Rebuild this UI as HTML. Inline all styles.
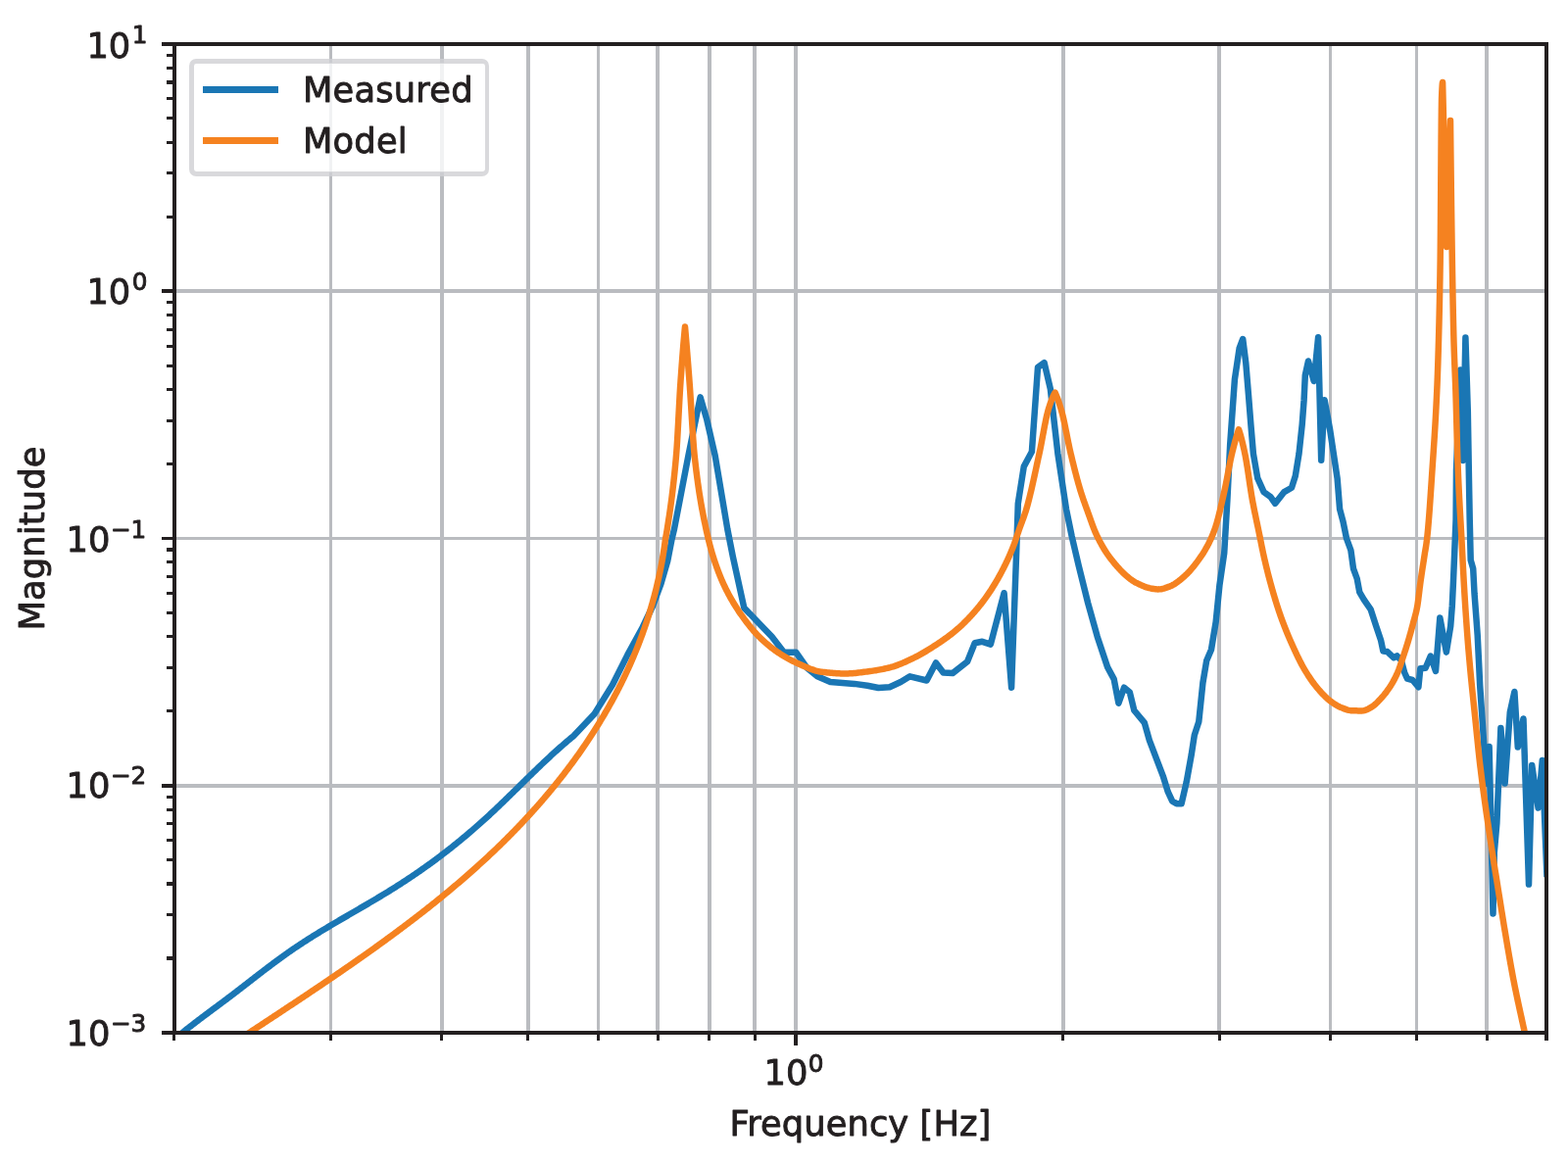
<!DOCTYPE html>
<html lang="en"><head><meta charset="utf-8"><title>Frequency response: measured vs model</title>
<style>html,body{margin:0;padding:0;background:#fff}body{width:1600px;height:1190px;overflow:hidden}svg{display:block}text{font-family:"DejaVu Sans","Liberation Sans",sans-serif;fill:#231f20;stroke:#231f20;stroke-width:0.9px;stroke-linejoin:round}</style></head><body>
<svg width="1600" height="1190" viewBox="0 0 1600 1190">
<rect width="1600" height="1190" fill="#ffffff"/>
<defs><clipPath id="ax"><rect x="177.42" y="44.47" width="1401.03" height="1009.90"/></clipPath></defs>
<path d="M336 47H339V1052H336ZM449 47H453V1052H449ZM537 47H541V1052H537ZM609 47H612V1052H609ZM669 47H673V1052H669ZM722 47H726V1052H722ZM768 47H772V1052H768ZM810 47H814V1052H810ZM1083 47H1087V1052H1083ZM1242 47H1246V1052H1242ZM1356 47H1359V1052H1356ZM1444 47H1447V1052H1444ZM1515 47H1519V1052H1515ZM180 800H1576V804H180ZM180 548H1576V551H180ZM180 295H1576V299H180Z" fill="#babcc0"/>
<g clip-path="url(#ax)" fill="none" stroke-linejoin="round" stroke-linecap="butt">
<path d="M176.00 1062.60 L177.11 1061.62 L178.23 1060.65 L179.36 1059.68 L180.49 1058.71 L181.62 1057.75 L182.76 1056.79 L183.91 1055.83 L185.06 1054.88 L186.22 1053.93 L187.38 1052.98 L188.55 1052.04 L189.72 1051.09 L190.89 1050.16 L192.07 1049.22 L193.25 1048.29 L194.44 1047.36 L195.62 1046.43 L196.82 1045.50 L198.01 1044.58 L199.21 1043.66 L200.41 1042.73 L201.61 1041.82 L202.82 1040.90 L204.03 1039.98 L205.24 1039.07 L206.45 1038.16 L207.66 1037.25 L208.88 1036.34 L210.09 1035.43 L211.31 1034.52 L212.53 1033.61 L213.75 1032.71 L214.96 1031.80 L216.18 1030.89 L217.40 1029.99 L218.62 1029.08 L219.84 1028.18 L221.06 1027.28 L222.28 1026.37 L223.50 1025.47 L224.72 1024.56 L225.93 1023.66 L227.15 1022.75 L228.36 1021.84 L229.57 1020.94 L230.78 1020.03 L231.99 1019.12 L233.19 1018.21 L234.40 1017.30 L235.60 1016.39 L236.80 1015.48 L238.00 1014.56 L239.19 1013.65 L240.39 1012.73 L241.58 1011.82 L242.77 1010.90 L243.96 1009.99 L245.15 1009.07 L246.33 1008.16 L247.52 1007.24 L248.71 1006.32 L249.89 1005.41 L251.07 1004.49 L252.26 1003.57 L253.44 1002.66 L254.62 1001.74 L255.80 1000.83 L256.98 999.91 L258.16 999.00 L259.34 998.08 L260.52 997.17 L261.71 996.26 L262.89 995.35 L264.07 994.44 L265.25 993.53 L266.43 992.62 L267.62 991.71 L268.80 990.80 L269.99 989.90 L271.17 989.00 L272.36 988.10 L273.55 987.20 L274.74 986.30 L275.93 985.40 L277.12 984.50 L278.31 983.61 L279.51 982.72 L280.71 981.83 L281.91 980.94 L283.11 980.06 L284.31 979.18 L285.51 978.30 L286.72 977.42 L287.93 976.54 L289.14 975.67 L290.36 974.80 L291.58 973.93 L292.80 973.07 L294.02 972.21 L295.25 971.35 L296.48 970.49 L297.71 969.64 L298.95 968.79 L300.19 967.94 L301.43 967.10 L302.68 966.26 L303.93 965.43 L305.18 964.59 L306.43 963.76 L307.69 962.93 L308.96 962.11 L310.22 961.29 L311.49 960.47 L312.76 959.65 L314.03 958.84 L315.31 958.03 L316.59 957.22 L317.87 956.42 L319.15 955.61 L320.44 954.81 L321.73 954.01 L323.02 953.22 L324.31 952.42 L325.60 951.63 L326.90 950.84 L328.20 950.05 L329.50 949.26 L330.80 948.48 L332.10 947.70 L333.41 946.91 L334.71 946.13 L336.02 945.36 L337.33 944.58 L338.64 943.80 L339.95 943.03 L341.26 942.25 L342.57 941.48 L343.89 940.71 L345.20 939.94 L346.51 939.17 L347.83 938.40 L349.15 937.63 L350.46 936.87 L351.78 936.10 L353.10 935.33 L354.41 934.57 L355.73 933.80 L357.05 933.04 L358.37 932.27 L359.68 931.51 L361.00 930.75 L362.32 929.98 L363.63 929.22 L364.95 928.45 L366.26 927.69 L367.58 926.92 L368.89 926.16 L370.21 925.39 L371.52 924.63 L372.83 923.86 L374.14 923.10 L375.45 922.33 L376.76 921.56 L378.07 920.79 L379.37 920.02 L380.68 919.25 L381.98 918.48 L383.28 917.71 L384.58 916.94 L385.88 916.16 L387.17 915.39 L388.47 914.61 L389.76 913.83 L391.05 913.05 L392.34 912.27 L393.62 911.49 L394.91 910.70 L396.19 909.92 L397.47 909.13 L398.74 908.34 L400.02 907.54 L401.29 906.75 L402.56 905.95 L403.82 905.16 L405.09 904.36 L406.35 903.55 L407.60 902.75 L408.86 901.94 L410.11 901.13 L411.36 900.32 L412.61 899.51 L413.85 898.69 L415.09 897.88 L416.33 897.06 L417.57 896.23 L418.80 895.41 L420.04 894.58 L421.27 893.75 L422.49 892.92 L423.72 892.09 L424.94 891.25 L426.16 890.41 L427.38 889.57 L428.60 888.72 L429.81 887.88 L431.02 887.03 L432.23 886.18 L433.44 885.32 L434.64 884.47 L435.85 883.61 L437.05 882.75 L438.25 881.88 L439.44 881.01 L440.64 880.14 L441.83 879.27 L443.02 878.40 L444.21 877.52 L445.39 876.64 L446.58 875.75 L447.76 874.87 L448.94 873.98 L450.12 873.09 L451.30 872.19 L452.47 871.29 L453.65 870.39 L454.82 869.49 L455.99 868.58 L457.15 867.67 L458.32 866.76 L459.49 865.85 L460.65 864.93 L461.81 864.01 L462.97 863.08 L464.13 862.15 L465.28 861.22 L466.44 860.29 L467.59 859.35 L468.74 858.41 L469.89 857.47 L471.04 856.52 L472.19 855.57 L473.33 854.62 L474.48 853.66 L475.62 852.70 L476.76 851.74 L477.90 850.78 L479.04 849.81 L480.18 848.83 L481.31 847.86 L482.45 846.88 L483.58 845.89 L484.72 844.91 L485.85 843.92 L486.98 842.92 L488.11 841.93 L489.23 840.93 L490.36 839.92 L491.48 838.91 L492.61 837.90 L493.73 836.89 L494.85 835.87 L495.98 834.85 L497.10 833.82 L498.22 832.79 L499.33 831.76 L500.45 830.72 L501.57 829.68 L502.68 828.64 L503.80 827.59 L504.91 826.54 L506.02 825.49 L507.14 824.44 L508.25 823.38 L509.36 822.32 L510.47 821.26 L511.58 820.19 L512.69 819.13 L513.79 818.06 L514.90 816.99 L516.01 815.92 L517.11 814.84 L518.22 813.77 L519.32 812.69 L520.43 811.62 L521.53 810.54 L522.64 809.46 L523.74 808.38 L524.84 807.30 L525.94 806.22 L527.04 805.14 L528.15 804.06 L529.25 802.98 L530.35 801.90 L531.45 800.82 L532.55 799.74 L533.65 798.66 L534.74 797.58 L535.84 796.51 L536.94 795.43 L538.04 794.36 L539.14 793.28 L540.24 792.21 L541.34 791.14 L542.43 790.07 L543.53 789.00 L544.63 787.93 L545.73 786.87 L546.83 785.81 L547.92 784.75 L549.02 783.69 L550.12 782.63 L551.22 781.58 L552.31 780.53 L553.41 779.49 L554.51 778.44 L555.61 777.40 L556.71 776.37 L557.81 775.33 L558.90 774.31 L560.00 773.28 L561.10 772.26 L562.20 771.24 L563.30 770.23 L564.40 769.22 L565.50 768.21 L566.61 767.21 L567.71 766.22 L568.81 765.23 L569.91 764.24 L571.01 763.26 L572.12 762.29 L573.22 761.32 L574.32 760.36 L575.43 759.40 L576.53 758.44 L577.64 757.50 L578.75 756.56 L579.85 755.62 L580.96 754.70 L582.07 753.77 L583.18 752.86 L584.29 751.95 L585.40 751.05 L606.20 729.10 L625.10 698.80 L640.20 668.60 L655.80 640.00 L666.30 618.00 L674.60 595.40 L681.20 572.70 L685.60 550.00 L688.00 540.00 L702.40 465.00 L714.60 405.40 L721.30 428.40 L729.70 465.00 L742.30 540.00 L747.90 568.40 L759.30 620.40 L787.60 649.70 L799.90 665.70 L812.20 665.70 L823.60 681.80 L834.00 690.30 L847.30 696.00 L871.80 697.90 L885.10 699.70 L896.40 702.00 L907.80 701.30 L919.10 696.00 L928.50 690.30 L945.60 694.50 L955.00 676.50 L962.60 686.50 L972.00 687.10 L987.10 675.20 L994.70 656.30 L1002.30 654.80 L1010.80 657.60 L1024.60 605.20 L1032.10 701.70 L1037.20 562.70 L1038.80 513.90 L1044.80 476.10 L1052.90 461.00 L1059.00 375.00 L1065.60 370.20 L1071.80 396.70 L1079.40 462.90 L1088.00 519.60 L1093.60 547.00 L1100.80 577.80 L1110.20 615.60 L1119.70 649.70 L1130.10 680.90 L1136.70 693.10 L1141.40 717.70 L1147.10 701.70 L1152.80 706.40 L1157.30 725.00 L1167.80 737.60 L1172.80 755.30 L1180.40 775.40 L1186.70 791.80 L1191.80 808.20 L1196.20 817.70 L1200.60 820.20 L1205.60 820.20 L1210.70 798.10 L1215.70 770.40 L1218.80 750.20 L1223.30 736.40 L1227.40 696.90 L1231.20 674.20 L1236.00 662.90 L1240.70 634.50 L1244.50 596.70 L1249.20 564.60 L1252.40 510.10 L1255.20 453.40 L1259.90 387.30 L1264.70 355.10 L1268.20 346.00 L1271.30 370.40 L1273.90 401.90 L1276.40 433.40 L1278.90 463.00 L1283.30 488.20 L1289.60 502.10 L1296.50 507.10 L1301.20 513.80 L1310.40 502.10 L1318.00 497.70 L1321.80 485.70 L1325.50 463.00 L1328.70 433.40 L1330.60 408.20 L1331.80 383.00 L1335.00 368.50 L1340.70 389.00 L1345.10 344.20 L1348.20 469.70 L1351.60 408.30 L1357.00 437.80 L1360.80 463.00 L1364.60 488.20 L1367.10 519.70 L1370.50 532.30 L1374.00 549.50 L1378.40 561.50 L1381.00 580.40 L1384.70 590.50 L1387.30 604.40 L1391.70 611.90 L1398.60 621.80 L1404.20 639.00 L1409.00 653.20 L1411.40 664.60 L1415.60 665.10 L1422.30 671.30 L1425.60 669.40 L1429.90 674.10 L1433.20 686.50 L1436.00 692.60 L1441.30 694.00 L1447.40 701.20 L1449.30 682.20 L1454.60 681.70 L1459.80 669.60 L1465.00 685.00 L1469.30 630.40 L1475.90 665.60 L1480.20 639.00 L1481.80 618.20 L1483.00 593.00 L1484.30 561.50 L1485.60 530.00 L1486.00 480.00 L1490.30 377.50 L1492.80 470.00 L1495.40 344.50 L1497.80 420.00 L1498.80 480.00 L1499.70 530.00 L1500.70 571.60 L1503.20 580.40 L1504.50 605.60 L1506.40 630.80 L1507.70 648.50 L1509.10 677.00 L1510.20 700.00 L1513.30 745.40 L1516.80 800.00 L1519.60 762.00 L1523.50 932.50 L1524.80 870.00 L1527.40 840.00 L1531.40 743.00 L1535.60 799.50 L1540.80 727.00 L1545.40 706.00 L1548.80 762.50 L1554.50 733.50 L1560.00 902.60 L1563.20 781.00 L1569.60 824.50 L1573.80 776.00 L1578.50 895.00" stroke="#1a76b4" stroke-width="6.50"/>
<path d="M240.00 1063.50 L241.23 1062.68 L242.46 1061.87 L243.68 1061.05 L244.91 1060.24 L246.14 1059.42 L247.38 1058.61 L248.61 1057.79 L249.84 1056.97 L251.07 1056.16 L252.31 1055.34 L253.54 1054.52 L254.78 1053.71 L256.01 1052.89 L257.25 1052.07 L258.48 1051.26 L259.72 1050.44 L260.96 1049.62 L262.20 1048.80 L263.44 1047.98 L264.68 1047.16 L265.92 1046.35 L267.16 1045.53 L268.40 1044.71 L269.64 1043.89 L270.88 1043.07 L272.13 1042.25 L273.37 1041.42 L274.61 1040.60 L275.86 1039.78 L277.10 1038.96 L278.35 1038.14 L279.59 1037.31 L280.84 1036.49 L282.08 1035.67 L283.33 1034.84 L284.58 1034.02 L285.82 1033.19 L287.07 1032.37 L288.32 1031.54 L289.57 1030.72 L290.82 1029.89 L292.06 1029.06 L293.31 1028.24 L294.56 1027.41 L295.81 1026.58 L297.06 1025.75 L298.31 1024.92 L299.56 1024.09 L300.81 1023.26 L302.06 1022.43 L303.31 1021.60 L304.56 1020.77 L305.81 1019.93 L307.06 1019.10 L308.31 1018.27 L309.56 1017.43 L310.82 1016.60 L312.07 1015.76 L313.32 1014.93 L314.57 1014.09 L315.82 1013.25 L317.07 1012.41 L318.32 1011.58 L319.57 1010.74 L320.82 1009.90 L322.07 1009.06 L323.33 1008.21 L324.58 1007.37 L325.83 1006.53 L327.08 1005.69 L328.33 1004.84 L329.58 1004.00 L330.83 1003.15 L332.08 1002.31 L333.33 1001.46 L334.58 1000.61 L335.83 999.76 L337.08 998.91 L338.33 998.06 L339.58 997.21 L340.83 996.36 L342.07 995.51 L343.32 994.66 L344.57 993.80 L345.82 992.95 L347.06 992.09 L348.31 991.24 L349.56 990.38 L350.80 989.52 L352.05 988.66 L353.30 987.80 L354.54 986.94 L355.79 986.08 L357.03 985.22 L358.27 984.35 L359.52 983.49 L360.76 982.62 L362.00 981.76 L363.25 980.89 L364.49 980.02 L365.73 979.15 L366.97 978.28 L368.21 977.41 L369.45 976.54 L370.69 975.67 L371.93 974.79 L373.16 973.92 L374.40 973.04 L375.64 972.17 L376.87 971.29 L378.11 970.41 L379.34 969.53 L380.58 968.65 L381.81 967.77 L383.04 966.88 L384.28 966.00 L385.51 965.11 L386.74 964.23 L387.97 963.34 L389.20 962.45 L390.43 961.56 L391.65 960.67 L392.88 959.78 L394.11 958.88 L395.33 957.99 L396.56 957.09 L397.78 956.20 L399.00 955.30 L400.22 954.40 L401.44 953.50 L402.66 952.60 L403.88 951.69 L405.10 950.79 L406.32 949.89 L407.54 948.98 L408.75 948.07 L409.97 947.16 L411.18 946.25 L412.39 945.34 L413.60 944.43 L414.81 943.51 L416.02 942.60 L417.23 941.68 L418.44 940.76 L419.64 939.84 L420.85 938.92 L422.05 938.00 L423.26 937.08 L424.46 936.15 L425.66 935.23 L426.86 934.30 L428.06 933.37 L429.25 932.44 L430.45 931.51 L431.64 930.58 L432.84 929.64 L434.03 928.71 L435.22 927.77 L436.41 926.83 L437.60 925.89 L438.79 924.95 L439.97 924.01 L441.16 923.06 L442.34 922.12 L443.52 921.17 L444.70 920.22 L445.88 919.27 L447.06 918.32 L448.24 917.36 L449.41 916.41 L450.59 915.45 L451.76 914.49 L452.93 913.53 L454.10 912.57 L455.27 911.61 L456.43 910.64 L457.60 909.68 L458.76 908.71 L459.92 907.74 L461.09 906.77 L462.24 905.80 L463.40 904.82 L464.56 903.85 L465.71 902.87 L466.86 901.89 L468.02 900.91 L469.16 899.93 L470.31 898.94 L471.46 897.96 L472.60 896.97 L473.75 895.98 L474.89 894.99 L476.03 894.00 L477.16 893.00 L478.30 892.01 L479.43 891.01 L480.57 890.01 L481.70 889.01 L482.83 888.01 L483.95 887.00 L485.08 885.99 L486.20 884.99 L487.32 883.98 L488.44 882.96 L489.56 881.95 L490.68 880.93 L491.79 879.92 L492.91 878.90 L494.02 877.88 L495.13 876.85 L496.23 875.83 L497.34 874.80 L498.44 873.77 L499.54 872.74 L500.64 871.71 L501.74 870.67 L502.83 869.64 L503.92 868.60 L505.01 867.56 L506.10 866.52 L507.19 865.47 L508.27 864.43 L509.36 863.38 L510.44 862.33 L511.52 861.27 L512.59 860.22 L513.67 859.16 L514.74 858.11 L515.81 857.05 L516.88 855.98 L517.94 854.92 L519.00 853.85 L520.07 852.78 L521.12 851.71 L522.18 850.64 L523.23 849.57 L524.29 848.49 L525.34 847.41 L526.38 846.33 L527.43 845.25 L528.47 844.16 L529.51 843.08 L530.55 841.99 L531.59 840.90 L532.62 839.80 L533.65 838.71 L534.68 837.61 L535.71 836.51 L536.73 835.41 L537.75 834.31 L538.77 833.21 L539.79 832.10 L540.80 830.99 L541.81 829.88 L542.82 828.77 L543.83 827.65 L544.83 826.53 L545.83 825.41 L546.83 824.29 L547.83 823.17 L548.82 822.04 L549.81 820.92 L550.80 819.79 L551.79 818.66 L552.77 817.52 L553.75 816.39 L554.73 815.25 L555.70 814.11 L556.68 812.97 L557.65 811.82 L558.61 810.68 L559.58 809.53 L560.54 808.38 L561.50 807.23 L562.45 806.08 L563.41 804.92 L564.36 803.76 L565.31 802.60 L566.25 801.44 L567.19 800.28 L568.13 799.11 L569.07 797.94 L570.00 796.77 L570.93 795.60 L571.86 794.43 L572.79 793.25 L573.71 792.07 L574.63 790.89 L575.55 789.71 L576.46 788.53 L577.37 787.34 L578.28 786.15 L579.18 784.96 L580.08 783.77 L580.98 782.57 L581.88 781.38 L582.77 780.18 L583.66 778.98 L584.54 777.78 L585.43 776.57 L586.31 775.36 L587.18 774.16 L588.06 772.95 L588.93 771.73 L589.79 770.52 L590.66 769.30 L591.52 768.08 L592.38 766.86 L593.23 765.64 L594.08 764.41 L594.93 763.19 L595.78 761.96 L596.62 760.73 L597.46 759.49 L598.29 758.26 L599.12 757.02 L599.95 755.78 L600.78 754.54 L601.60 753.30 L602.42 752.05 L603.23 750.81 L604.05 749.56 L604.85 748.31 L605.66 747.05 L606.46 745.80 L607.26 744.54 L608.05 743.28 L608.85 742.02 L609.63 740.75 L610.42 739.49 L611.20 738.22 L611.98 736.95 L612.75 735.68 L613.52 734.41 L614.29 733.13 L615.05 731.85 L615.81 730.57 L616.57 729.29 L617.32 728.01 L618.07 726.72 L618.82 725.43 L619.56 724.14 L620.30 722.85 L621.03 721.56 L621.76 720.26 L622.49 718.96 L623.21 717.66 L623.93 716.36 L624.65 715.06 L625.36 713.75 L626.07 712.44 L626.77 711.13 L627.47 709.82 L628.17 708.51 L628.86 707.19 L629.55 705.87 L630.24 704.55 L630.92 703.23 L631.60 701.91 L632.27 700.58 L632.94 699.25 L633.61 697.92 L634.27 696.59 L634.93 695.25 L635.59 693.92 L636.24 692.58 L636.88 691.24 L637.53 689.89 L638.17 688.55 L638.80 687.20 L639.43 685.85 L640.06 684.50 L640.68 683.15 L641.30 681.79 L641.92 680.44 L642.53 679.08 L643.13 677.72 L643.73 676.35 L644.33 674.99 L644.93 673.62 L645.52 672.25 L646.10 670.88 L646.69 669.51 L647.26 668.13 L647.84 666.76 L648.41 665.38 L648.97 664.00 L649.53 662.61 L650.09 661.23 L650.64 659.84 L651.19 658.45 L651.73 657.06 L652.27 655.67 L652.81 654.27 L653.34 652.87 L653.86 651.47 L654.39 650.07 L654.90 648.67 L655.42 647.26 L655.93 645.85 L656.43 644.44 L656.93 643.03 L657.43 641.62 L657.92 640.20 L658.41 638.78 L658.89 637.37 L659.37 635.94 L659.84 634.52 L660.31 633.09 L660.77 631.67 L661.23 630.24 L661.69 628.80 L662.14 627.37 L662.59 625.93 L663.03 624.49 L663.47 623.05 L663.90 621.61 L664.33 620.17 L664.75 618.72 L665.17 617.27 L665.58 615.82 L665.99 614.37 L666.40 612.92 L666.80 611.46 L667.19 610.00 L667.58 608.54 L667.97 607.08 L668.35 605.61 L668.73 604.15 L669.10 602.68 L669.47 601.21 L669.83 599.73 L670.18 598.26 L670.54 596.78 L670.88 595.30 L671.23 593.82 L671.57 592.34 L671.90 590.86 L672.23 589.37 L672.55 587.88 L672.87 586.39 L673.18 584.90 L673.49 583.40 L673.79 581.90 L674.09 580.40 L674.39 578.90 L674.67 577.40 L674.96 575.90 L675.24 574.39 L675.51 572.88 L675.78 571.37 L676.04 569.85 L676.30 568.34 L676.55 566.82 L676.80 565.30 L677.04 563.78 L677.28 562.26 L677.51 560.73 L677.74 559.20 L677.96 557.67 L678.18 556.14 L678.39 554.61 L678.60 553.07 L678.80 551.54 L679.00 550.00 L679.29 548.52 L679.57 547.04 L679.85 545.54 L680.12 544.04 L680.38 542.53 L680.64 541.02 L680.88 539.51 L681.11 538.03 L681.34 536.54 L681.58 535.06 L681.81 533.57 L682.04 532.08 L682.26 530.59 L682.49 529.11 L682.71 527.62 L682.94 526.13 L683.16 524.63 L683.38 523.14 L683.59 521.65 L683.81 520.16 L684.02 518.66 L684.23 517.17 L684.43 515.67 L684.64 514.18 L684.84 512.68 L685.04 511.19 L685.23 509.69 L685.43 508.19 L685.62 506.69 L685.81 505.19 L685.99 503.69 L686.18 502.20 L686.36 500.70 L686.53 499.20 L686.71 497.70 L686.88 496.19 L687.05 494.69 L687.22 493.19 L687.39 491.69 L687.55 490.19 L687.71 488.69 L687.87 487.19 L688.03 485.68 L688.19 484.18 L688.34 482.68 L688.49 481.18 L688.64 479.68 L688.79 478.17 L688.93 476.67 L689.08 475.17 L689.22 473.66 L689.36 472.16 L689.50 470.66 L689.63 469.16 L689.77 467.65 L689.90 466.15 L690.03 464.64 L690.16 463.10 L690.28 461.56 L690.39 460.03 L690.50 458.51 L690.61 456.99 L690.71 455.47 L690.81 453.95 L690.90 452.43 L691.00 450.92 L691.09 449.41 L691.18 447.90 L691.27 446.39 L691.35 444.88 L691.44 443.37 L691.52 441.86 L691.61 440.36 L691.69 438.85 L691.77 437.35 L691.85 435.85 L691.94 434.34 L692.02 432.84 L692.10 431.34 L692.18 429.84 L692.25 428.34 L692.33 426.84 L692.41 425.34 L692.49 423.84 L692.57 422.35 L692.65 420.85 L692.73 419.35 L692.81 417.86 L692.89 416.36 L692.97 414.87 L693.05 413.38 L693.13 411.88 L693.21 410.39 L693.29 408.90 L693.37 407.41 L693.46 405.92 L693.54 404.43 L693.63 402.94 L693.71 401.46 L693.80 399.97 L693.89 398.49 L693.98 397.00 L694.07 395.52 L694.17 394.05 L694.27 392.57 L694.37 391.10 L694.47 389.61 L694.57 388.12 L694.68 386.63 L694.78 385.14 L694.89 383.65 L695.00 382.15 L695.11 380.66 L695.21 379.17 L695.32 377.68 L695.43 376.19 L695.54 374.70 L695.65 373.20 L695.76 371.71 L695.88 370.22 L695.99 368.73 L696.10 367.24 L696.22 365.75 L696.33 364.26 L696.45 362.77 L696.57 361.28 L696.69 359.80 L696.81 358.31 L696.93 356.82 L697.05 355.33 L697.17 353.84 L697.29 352.35 L697.42 350.87 L697.55 349.38 L697.67 347.89 L697.80 346.41 L697.93 344.92 L698.07 343.44 L698.20 341.95 L698.34 340.47 L698.47 338.99 L698.61 337.50 L698.75 336.02 L698.90 334.54 L699.00 333.50 L699.13 335.00 L699.26 336.50 L699.39 337.99 L699.52 339.49 L699.65 340.99 L699.78 342.49 L699.90 343.99 L700.03 345.49 L700.16 346.98 L700.28 348.48 L700.41 349.98 L700.53 351.48 L700.66 352.98 L700.78 354.48 L700.90 355.97 L701.02 357.47 L701.14 358.97 L701.27 360.47 L701.39 361.97 L701.51 363.47 L701.63 364.96 L701.74 366.46 L701.86 367.96 L701.98 369.46 L702.10 370.96 L702.22 372.46 L702.33 373.95 L702.45 375.45 L702.56 376.95 L702.68 378.45 L702.79 379.95 L702.91 381.45 L703.02 382.94 L703.14 384.44 L703.25 385.94 L703.36 387.44 L703.48 388.94 L703.59 390.44 L703.70 391.95 L703.81 393.46 L703.92 394.97 L704.02 396.48 L704.12 397.99 L704.23 399.50 L704.33 401.00 L704.42 402.51 L704.52 404.02 L704.62 405.52 L704.71 407.02 L704.81 408.53 L704.90 410.03 L705.00 411.53 L705.09 413.03 L705.18 414.53 L705.27 416.03 L705.36 417.53 L705.46 419.03 L705.55 420.53 L705.64 422.02 L705.73 423.52 L705.82 425.02 L705.91 426.51 L706.00 428.01 L706.10 429.50 L706.19 431.00 L706.28 432.49 L706.37 433.98 L706.47 435.47 L706.56 436.97 L706.66 438.46 L706.75 439.95 L706.85 441.43 L706.95 442.92 L707.05 444.41 L707.15 445.89 L707.25 447.38 L707.35 448.86 L707.46 450.34 L707.57 451.82 L707.68 453.30 L707.79 454.78 L707.90 456.25 L708.02 457.72 L708.15 459.19 L708.28 460.65 L708.41 462.11 L708.55 463.56 L708.70 465.00 L708.86 466.49 L709.02 467.97 L709.19 469.45 L709.35 470.93 L709.52 472.41 L709.69 473.89 L709.86 475.37 L710.04 476.85 L710.21 478.33 L710.39 479.81 L710.57 481.29 L710.76 482.77 L710.95 484.24 L711.13 485.72 L711.33 487.20 L711.52 488.68 L711.72 490.15 L711.92 491.63 L712.12 493.10 L712.33 494.58 L712.54 496.05 L712.75 497.52 L712.97 499.00 L713.19 500.47 L713.41 501.94 L713.64 503.41 L713.87 504.88 L714.11 506.35 L714.34 507.82 L714.58 509.29 L714.83 510.76 L715.08 512.22 L715.33 513.69 L715.59 515.16 L715.85 516.62 L716.11 518.09 L716.38 519.55 L716.65 521.02 L716.93 522.48 L717.21 523.94 L717.49 525.41 L717.78 526.87 L718.07 528.33 L718.37 529.80 L718.66 531.26 L718.97 532.72 L719.27 534.18 L719.58 535.64 L719.88 537.11 L720.19 538.57 L720.51 540.03 L720.82 541.49 L721.14 542.94 L721.46 544.39 L721.79 545.84 L722.13 547.29 L722.47 548.74 L722.82 550.19 L723.17 551.63 L723.53 553.07 L723.89 554.52 L724.26 555.95 L724.64 557.39 L725.03 558.83 L725.42 560.26 L725.82 561.69 L726.23 563.12 L726.65 564.55 L727.07 565.97 L727.50 567.39 L727.94 568.81 L728.39 570.23 L728.85 571.64 L729.32 573.05 L729.79 574.46 L730.27 575.87 L730.76 577.28 L731.26 578.68 L731.76 580.08 L732.28 581.48 L732.80 582.87 L733.33 584.26 L733.87 585.64 L734.42 587.03 L734.97 588.41 L735.54 589.78 L736.12 591.15 L736.70 592.52 L737.30 593.88 L737.91 595.24 L738.53 596.59 L739.16 597.93 L739.80 599.27 L740.45 600.61 L741.12 601.94 L741.79 603.27 L742.48 604.60 L743.17 605.92 L743.87 607.23 L744.58 608.54 L745.30 609.84 L746.03 611.14 L746.77 612.44 L747.52 613.72 L748.28 615.01 L749.05 616.28 L749.83 617.55 L750.62 618.82 L751.42 620.08 L752.23 621.33 L753.04 622.58 L753.87 623.82 L754.71 625.05 L755.56 626.28 L756.41 627.51 L757.27 628.72 L758.15 629.94 L759.02 631.15 L759.91 632.35 L760.80 633.55 L761.70 634.74 L762.61 635.92 L763.52 637.10 L764.45 638.28 L765.38 639.44 L766.33 640.60 L767.28 641.74 L768.24 642.88 L769.22 644.01 L770.20 645.13 L771.20 646.24 L772.21 647.34 L773.23 648.42 L774.27 649.49 L775.32 650.54 L776.39 651.58 L777.47 652.61 L778.56 653.63 L779.66 654.64 L780.78 655.63 L781.90 656.62 L783.03 657.59 L784.18 658.55 L785.33 659.49 L786.50 660.42 L787.67 661.34 L788.86 662.25 L790.06 663.14 L791.27 664.01 L792.49 664.87 L793.72 665.72 L794.97 666.55 L796.22 667.36 L797.48 668.16 L798.75 668.96 L800.03 669.74 L801.31 670.50 L802.60 671.25 L803.90 671.99 L805.21 672.72 L806.53 673.43 L807.85 674.12 L809.19 674.80 L810.53 675.45 L811.88 676.10 L813.24 676.72 L814.61 677.32 L815.98 677.93 L817.35 678.55 L818.72 679.16 L820.09 679.77 L821.46 680.38 L822.83 680.98 L824.21 681.56 L825.59 682.13 L826.98 682.67 L828.38 683.19 L829.80 683.68 L831.22 684.14 L832.65 684.55 L834.10 684.92 L835.56 685.24 L837.03 685.49 L838.52 685.69 L840.00 685.88 L841.49 686.06 L842.98 686.23 L844.47 686.40 L845.96 686.55 L847.46 686.70 L848.95 686.84 L850.44 686.97 L851.94 687.09 L853.43 687.19 L854.93 687.28 L856.43 687.36 L857.93 687.42 L859.43 687.46 L860.93 687.49 L862.43 687.50 L863.93 687.48 L865.42 687.44 L866.92 687.37 L868.42 687.28 L869.92 687.17 L871.41 687.03 L872.91 686.89 L874.40 686.73 L875.89 686.55 L877.38 686.37 L878.87 686.19 L880.36 686.00 L881.84 685.81 L883.33 685.62 L884.82 685.43 L886.31 685.25 L887.80 685.05 L889.28 684.85 L890.77 684.63 L892.25 684.41 L893.73 684.17 L895.21 683.92 L896.69 683.66 L898.17 683.39 L899.64 683.11 L901.11 682.81 L902.58 682.50 L904.05 682.18 L905.52 681.85 L906.98 681.50 L908.43 681.14 L909.89 680.74 L911.33 680.32 L912.76 679.86 L914.19 679.37 L915.60 678.86 L917.01 678.33 L918.41 677.78 L919.80 677.21 L921.18 676.62 L922.56 676.02 L923.93 675.41 L925.30 674.79 L926.67 674.16 L928.03 673.53 L929.38 672.89 L930.74 672.24 L932.10 671.60 L933.45 670.94 L934.80 670.27 L936.13 669.58 L937.46 668.87 L938.78 668.15 L940.09 667.42 L941.40 666.67 L942.70 665.91 L943.99 665.14 L945.28 664.37 L946.56 663.58 L947.83 662.79 L949.11 661.99 L950.37 661.18 L951.64 660.37 L952.90 659.56 L954.16 658.75 L955.42 657.93 L956.68 657.10 L957.93 656.27 L959.18 655.44 L960.42 654.59 L961.66 653.74 L962.90 652.89 L964.12 652.02 L965.35 651.15 L966.56 650.26 L967.77 649.37 L968.98 648.46 L970.17 647.55 L971.36 646.62 L972.54 645.69 L973.71 644.74 L974.87 643.78 L976.02 642.81 L977.16 641.83 L978.30 640.83 L979.42 639.82 L980.53 638.81 L981.63 637.78 L982.72 636.74 L983.80 635.69 L984.87 634.63 L985.93 633.56 L986.98 632.48 L988.03 631.40 L989.07 630.31 L990.09 629.21 L991.12 628.10 L992.13 626.99 L993.14 625.87 L994.14 624.74 L995.13 623.61 L996.11 622.47 L997.09 621.32 L998.05 620.16 L999.00 618.99 L999.95 617.81 L1000.88 616.63 L1001.80 615.44 L1002.72 614.24 L1003.62 613.03 L1004.52 611.82 L1005.41 610.60 L1006.29 609.38 L1007.16 608.15 L1008.02 606.91 L1008.87 605.67 L1009.72 604.42 L1010.56 603.17 L1011.38 601.90 L1012.20 600.63 L1013.01 599.36 L1013.80 598.08 L1014.59 596.79 L1015.37 595.50 L1016.14 594.20 L1016.90 592.90 L1017.66 591.59 L1018.40 590.28 L1019.14 588.97 L1019.87 587.65 L1020.59 586.33 L1021.31 585.00 L1022.02 583.67 L1022.72 582.33 L1023.41 581.00 L1024.10 579.66 L1024.78 578.31 L1025.45 576.96 L1026.12 575.60 L1026.77 574.24 L1027.42 572.88 L1028.06 571.51 L1028.69 570.14 L1029.32 568.77 L1029.93 567.39 L1030.54 566.00 L1031.14 564.62 L1031.73 563.23 L1032.31 561.83 L1032.88 560.43 L1033.45 559.03 L1034.00 557.61 L1034.54 556.18 L1035.06 554.75 L1035.57 553.33 L1036.06 551.90 L1036.55 550.47 L1037.03 549.04 L1037.51 547.62 L1037.99 546.19 L1038.47 544.77 L1038.95 543.36 L1039.43 541.94 L1039.91 540.53 L1040.41 539.13 L1040.91 537.74 L1041.42 536.34 L1041.94 534.94 L1042.47 533.54 L1043.00 532.13 L1043.52 530.72 L1044.05 529.31 L1044.56 527.89 L1045.07 526.46 L1045.57 525.02 L1046.05 523.58 L1046.52 522.13 L1046.97 520.68 L1047.41 519.22 L1047.84 517.76 L1048.26 516.29 L1048.66 514.83 L1049.05 513.37 L1049.44 511.90 L1049.82 510.44 L1050.19 508.97 L1050.56 507.51 L1050.92 506.04 L1051.28 504.57 L1051.63 503.10 L1051.98 501.64 L1052.32 500.17 L1052.66 498.70 L1053.00 497.23 L1053.33 495.76 L1053.67 494.30 L1054.00 492.83 L1054.32 491.36 L1054.65 489.89 L1054.97 488.42 L1055.29 486.95 L1055.61 485.48 L1055.93 484.02 L1056.25 482.55 L1056.57 481.08 L1056.89 479.61 L1057.20 478.15 L1057.52 476.68 L1057.83 475.21 L1058.15 473.75 L1058.47 472.28 L1058.78 470.82 L1059.10 469.35 L1059.41 467.89 L1059.73 466.42 L1060.05 464.96 L1060.37 463.50 L1060.69 462.02 L1061.01 460.54 L1061.31 459.05 L1061.61 457.57 L1061.91 456.08 L1062.20 454.60 L1062.49 453.12 L1062.77 451.64 L1063.05 450.16 L1063.33 448.68 L1063.60 447.20 L1063.88 445.73 L1064.15 444.25 L1064.43 442.78 L1064.70 441.30 L1064.98 439.83 L1065.26 438.36 L1065.54 436.90 L1065.82 435.43 L1066.10 433.97 L1066.39 432.51 L1066.68 431.05 L1066.98 429.59 L1067.28 428.14 L1067.59 426.69 L1067.91 425.25 L1068.24 423.81 L1068.58 422.38 L1068.94 420.96 L1069.31 419.55 L1069.70 418.16 L1070.13 416.77 L1070.57 415.35 L1071.02 413.94 L1071.49 412.53 L1071.97 411.14 L1072.46 409.74 L1072.97 408.36 L1073.50 407.00 L1074.05 405.64 L1074.64 404.31 L1075.26 403.00 L1075.93 401.73 L1076.60 400.60 L1077.24 402.01 L1077.84 403.42 L1078.42 404.85 L1078.97 406.28 L1079.49 407.71 L1080.00 409.15 L1080.49 410.60 L1080.96 412.04 L1081.42 413.49 L1081.88 414.94 L1082.32 416.39 L1082.75 417.84 L1083.17 419.29 L1083.58 420.78 L1083.98 422.27 L1084.35 423.75 L1084.71 425.24 L1085.05 426.72 L1085.39 428.21 L1085.71 429.69 L1086.03 431.17 L1086.34 432.65 L1086.65 434.13 L1086.95 435.61 L1087.25 437.08 L1087.55 438.56 L1087.84 440.04 L1088.14 441.51 L1088.43 442.98 L1088.72 444.46 L1089.01 445.93 L1089.30 447.39 L1089.60 448.86 L1089.89 450.33 L1090.19 451.79 L1090.49 453.25 L1090.79 454.71 L1091.10 456.17 L1091.41 457.62 L1091.72 459.07 L1092.05 460.52 L1092.38 461.96 L1092.72 463.40 L1093.07 464.86 L1093.42 466.31 L1093.77 467.77 L1094.12 469.22 L1094.48 470.68 L1094.83 472.13 L1095.19 473.58 L1095.55 475.03 L1095.91 476.49 L1096.27 477.94 L1096.64 479.38 L1097.01 480.83 L1097.38 482.28 L1097.76 483.73 L1098.14 485.17 L1098.52 486.61 L1098.90 488.06 L1099.29 489.50 L1099.69 490.93 L1100.08 492.37 L1100.49 493.81 L1100.89 495.24 L1101.31 496.67 L1101.73 498.10 L1102.16 499.52 L1102.59 500.94 L1103.03 502.36 L1103.48 503.78 L1103.94 505.19 L1104.40 506.61 L1104.88 508.02 L1105.36 509.43 L1105.84 510.84 L1106.34 512.25 L1106.84 513.65 L1107.34 515.06 L1107.84 516.47 L1108.35 517.88 L1108.86 519.29 L1109.38 520.70 L1109.89 522.11 L1110.40 523.52 L1110.90 524.94 L1111.41 526.36 L1111.91 527.77 L1112.41 529.19 L1112.91 530.60 L1113.41 532.01 L1113.92 533.41 L1114.42 534.82 L1114.94 536.21 L1115.46 537.61 L1115.99 538.99 L1116.54 540.37 L1117.09 541.74 L1117.67 543.10 L1118.26 544.45 L1118.88 545.78 L1119.52 547.12 L1120.17 548.46 L1120.84 549.79 L1121.51 551.12 L1122.19 552.44 L1122.89 553.75 L1123.60 555.06 L1124.32 556.36 L1125.05 557.65 L1125.80 558.93 L1126.57 560.21 L1127.34 561.47 L1128.14 562.73 L1128.95 563.97 L1129.78 565.20 L1130.62 566.42 L1131.49 567.62 L1132.37 568.82 L1133.27 570.01 L1134.18 571.19 L1135.10 572.36 L1136.03 573.53 L1136.97 574.68 L1137.93 575.83 L1138.89 576.96 L1139.87 578.09 L1140.86 579.20 L1141.87 580.30 L1142.89 581.39 L1143.92 582.46 L1144.97 583.52 L1146.03 584.56 L1147.11 585.59 L1148.20 586.60 L1149.31 587.59 L1150.44 588.56 L1151.59 589.51 L1152.75 590.43 L1153.94 591.34 L1155.14 592.21 L1156.37 593.04 L1157.62 593.83 L1158.91 594.55 L1160.24 595.22 L1161.58 595.87 L1162.93 596.52 L1164.29 597.14 L1165.66 597.74 L1167.04 598.31 L1168.44 598.84 L1169.84 599.32 L1171.27 599.76 L1172.71 600.14 L1174.17 600.44 L1175.65 600.70 L1177.13 600.94 L1178.61 601.15 L1180.10 601.31 L1181.59 601.39 L1183.09 601.37 L1184.59 601.20 L1186.07 600.93 L1187.54 600.56 L1188.98 600.13 L1190.41 599.66 L1191.83 599.16 L1193.24 598.66 L1194.66 598.10 L1196.03 597.45 L1197.37 596.72 L1198.66 595.92 L1199.93 595.08 L1201.16 594.20 L1202.37 593.29 L1203.56 592.35 L1204.73 591.40 L1205.88 590.44 L1207.03 589.46 L1208.17 588.48 L1209.31 587.49 L1210.42 586.45 L1211.50 585.39 L1212.56 584.30 L1213.59 583.19 L1214.60 582.06 L1215.59 580.92 L1216.57 579.76 L1217.53 578.59 L1218.47 577.41 L1219.41 576.23 L1220.33 575.04 L1221.24 573.84 L1222.15 572.63 L1223.04 571.42 L1223.93 570.19 L1224.80 568.95 L1225.65 567.70 L1226.49 566.44 L1227.31 565.17 L1228.12 563.89 L1228.91 562.60 L1229.69 561.29 L1230.45 559.98 L1231.19 558.66 L1231.92 557.33 L1232.63 556.00 L1233.33 554.65 L1234.01 553.29 L1234.68 551.93 L1235.33 550.55 L1235.96 549.16 L1236.57 547.77 L1237.16 546.36 L1237.73 544.95 L1238.28 543.53 L1238.82 542.10 L1239.34 540.67 L1239.85 539.23 L1240.34 537.79 L1240.81 536.33 L1241.26 534.86 L1241.69 533.40 L1242.10 531.93 L1242.51 530.46 L1242.90 529.00 L1243.28 527.53 L1243.65 526.06 L1244.02 524.59 L1244.38 523.12 L1244.73 521.65 L1245.08 520.19 L1245.43 518.72 L1245.77 517.25 L1246.11 515.78 L1246.45 514.31 L1246.78 512.85 L1247.11 511.38 L1247.44 509.91 L1247.77 508.45 L1248.10 506.98 L1248.42 505.52 L1248.75 504.05 L1249.08 502.59 L1249.40 501.13 L1249.73 499.65 L1250.05 498.16 L1250.36 496.68 L1250.67 495.19 L1250.97 493.71 L1251.26 492.23 L1251.55 490.74 L1251.83 489.26 L1252.11 487.78 L1252.39 486.31 L1252.67 484.83 L1252.95 483.35 L1253.23 481.88 L1253.50 480.41 L1253.78 478.94 L1254.06 477.47 L1254.34 476.00 L1254.63 474.54 L1254.91 473.07 L1255.21 471.62 L1255.50 470.16 L1255.80 468.71 L1256.11 467.26 L1256.43 465.81 L1256.75 464.37 L1257.09 462.94 L1257.44 461.50 L1257.80 460.05 L1258.16 458.60 L1258.52 457.16 L1258.89 455.71 L1259.27 454.27 L1259.65 452.83 L1260.03 451.40 L1260.43 449.96 L1260.83 448.53 L1261.24 447.11 L1261.65 445.68 L1262.08 444.26 L1262.51 442.84 L1262.96 441.43 L1263.42 440.03 L1263.89 438.63 L1264.00 438.30 L1264.50 439.76 L1264.96 441.23 L1265.41 442.70 L1265.83 444.17 L1266.24 445.64 L1266.64 447.11 L1267.02 448.58 L1267.39 450.06 L1267.75 451.53 L1268.10 453.01 L1268.45 454.48 L1268.79 455.96 L1269.12 457.44 L1269.45 458.91 L1269.77 460.39 L1270.08 461.87 L1270.39 463.35 L1270.70 464.86 L1270.98 466.37 L1271.26 467.87 L1271.52 469.37 L1271.78 470.87 L1272.03 472.37 L1272.27 473.87 L1272.51 475.36 L1272.75 476.86 L1272.98 478.35 L1273.21 479.84 L1273.43 481.33 L1273.65 482.82 L1273.88 484.31 L1274.10 485.79 L1274.32 487.28 L1274.54 488.76 L1274.75 490.25 L1274.97 491.73 L1275.19 493.21 L1275.41 494.69 L1275.64 496.17 L1275.86 497.64 L1276.09 499.12 L1276.31 500.59 L1276.54 502.06 L1276.78 503.53 L1277.02 505.00 L1277.26 506.46 L1277.51 507.92 L1277.77 509.37 L1278.03 510.83 L1278.30 512.29 L1278.58 513.76 L1278.86 515.22 L1279.14 516.68 L1279.43 518.15 L1279.72 519.61 L1280.01 521.07 L1280.31 522.54 L1280.61 524.00 L1280.91 525.46 L1281.21 526.93 L1281.52 528.39 L1281.82 529.85 L1282.13 531.32 L1282.44 532.79 L1282.75 534.25 L1283.06 535.72 L1283.37 537.19 L1283.68 538.66 L1283.99 540.13 L1284.30 541.60 L1284.60 543.08 L1284.91 544.55 L1285.21 546.03 L1285.51 547.51 L1285.80 548.98 L1286.10 550.45 L1286.39 551.93 L1286.68 553.40 L1286.98 554.87 L1287.27 556.34 L1287.56 557.80 L1287.86 559.27 L1288.16 560.73 L1288.46 562.19 L1288.76 563.65 L1289.07 565.10 L1289.39 566.56 L1289.71 568.00 L1290.04 569.45 L1290.37 570.91 L1290.71 572.36 L1291.05 573.82 L1291.39 575.27 L1291.74 576.72 L1292.09 578.18 L1292.44 579.63 L1292.80 581.08 L1293.15 582.52 L1293.52 583.97 L1293.88 585.42 L1294.25 586.87 L1294.63 588.31 L1295.00 589.76 L1295.38 591.20 L1295.77 592.64 L1296.16 594.08 L1296.55 595.52 L1296.94 596.96 L1297.34 598.40 L1297.75 599.84 L1298.16 601.28 L1298.57 602.71 L1298.98 604.15 L1299.40 605.58 L1299.82 607.02 L1300.24 608.45 L1300.67 609.88 L1301.10 611.31 L1301.53 612.74 L1301.97 614.16 L1302.41 615.59 L1302.86 617.01 L1303.31 618.44 L1303.77 619.86 L1304.23 621.27 L1304.70 622.69 L1305.18 624.10 L1305.66 625.51 L1306.14 626.92 L1306.63 628.33 L1307.13 629.73 L1307.64 631.14 L1308.15 632.54 L1308.66 633.94 L1309.19 635.34 L1309.71 636.73 L1310.25 638.12 L1310.79 639.52 L1311.33 640.91 L1311.88 642.29 L1312.44 643.68 L1313.00 645.06 L1313.56 646.44 L1314.14 647.82 L1314.71 649.20 L1315.30 650.57 L1315.89 651.94 L1316.48 653.31 L1317.08 654.68 L1317.68 656.05 L1318.29 657.41 L1318.91 658.78 L1319.53 660.14 L1320.15 661.50 L1320.77 662.86 L1321.40 664.22 L1322.03 665.57 L1322.66 666.93 L1323.30 668.28 L1323.95 669.62 L1324.60 670.96 L1325.26 672.30 L1325.93 673.64 L1326.60 674.96 L1327.28 676.29 L1327.98 677.61 L1328.68 678.92 L1329.40 680.22 L1330.13 681.51 L1330.87 682.80 L1331.63 684.08 L1332.40 685.35 L1333.18 686.62 L1333.97 687.89 L1334.77 689.14 L1335.58 690.39 L1336.41 691.63 L1337.24 692.87 L1338.08 694.09 L1338.94 695.31 L1339.81 696.52 L1340.70 697.71 L1341.60 698.90 L1342.52 700.07 L1343.45 701.22 L1344.40 702.36 L1345.37 703.50 L1346.35 704.63 L1347.34 705.74 L1348.33 706.85 L1349.34 707.95 L1350.37 709.03 L1351.41 710.09 L1352.46 711.14 L1353.54 712.16 L1354.64 713.16 L1355.76 714.12 L1356.91 715.06 L1358.10 715.94 L1359.31 716.81 L1360.53 717.67 L1361.77 718.50 L1363.03 719.29 L1364.30 720.06 L1365.60 720.78 L1366.93 721.44 L1368.28 722.04 L1369.67 722.57 L1371.08 723.10 L1372.48 723.61 L1373.90 724.10 L1375.32 724.53 L1376.77 724.89 L1378.23 725.16 L1379.72 725.29 L1381.22 725.32 L1382.72 725.35 L1384.22 725.37 L1385.72 725.38 L1387.22 725.39 L1388.72 725.40 L1390.22 725.40 L1391.71 725.21 L1393.18 724.80 L1394.60 724.23 L1395.97 723.56 L1397.30 722.84 L1398.61 722.10 L1399.91 721.36 L1401.20 720.50 L1402.41 719.56 L1403.56 718.55 L1404.67 717.50 L1405.74 716.43 L1406.80 715.34 L1407.83 714.25 L1408.86 713.15 L1409.88 712.04 L1410.89 710.90 L1411.87 709.75 L1412.83 708.57 L1413.77 707.38 L1414.69 706.18 L1415.59 704.95 L1416.47 703.72 L1417.33 702.47 L1418.17 701.21 L1418.99 699.93 L1419.80 698.64 L1420.58 697.34 L1421.34 696.03 L1422.08 694.70 L1422.80 693.36 L1423.50 692.00 L1424.18 690.64 L1424.84 689.27 L1425.48 687.89 L1426.10 686.50 L1426.70 685.06 L1427.27 683.63 L1427.80 682.19 L1428.31 680.76 L1428.81 679.32 L1429.29 677.89 L1429.77 676.45 L1430.24 675.02 L1430.71 673.60 L1431.18 672.18 L1431.65 670.76 L1432.12 669.34 L1432.59 667.91 L1433.07 666.48 L1433.53 665.05 L1434.00 663.62 L1434.46 662.18 L1434.92 660.75 L1435.37 659.31 L1435.82 657.87 L1436.26 656.43 L1436.70 654.98 L1437.13 653.54 L1437.56 652.09 L1437.98 650.64 L1438.40 649.19 L1438.81 647.74 L1439.22 646.29 L1439.62 644.83 L1440.02 643.38 L1440.41 641.92 L1440.81 640.47 L1441.19 639.02 L1441.58 637.56 L1441.96 636.11 L1442.34 634.66 L1442.73 633.23 L1443.13 631.80 L1443.53 630.36 L1443.93 628.90 L1444.33 627.42 L1444.70 625.93 L1445.06 624.43 L1445.40 622.92 L1445.72 621.41 L1446.02 619.88 L1446.30 618.31 L1446.55 616.76 L1446.77 615.23 L1446.98 613.70 L1447.19 612.19 L1447.38 610.68 L1447.57 609.17 L1447.76 607.67 L1447.94 606.17 L1448.12 604.68 L1448.30 603.19 L1448.48 601.71 L1448.66 600.22 L1448.84 598.75 L1449.03 597.27 L1449.22 595.80 L1449.41 594.34 L1449.62 592.89 L1449.83 591.41 L1450.04 589.94 L1450.26 588.46 L1450.47 586.98 L1450.69 585.51 L1450.92 584.03 L1451.14 582.55 L1451.37 581.07 L1451.59 579.59 L1451.82 578.11 L1452.05 576.63 L1452.28 575.15 L1452.50 573.67 L1452.73 572.18 L1452.96 570.70 L1453.19 569.21 L1453.41 567.72 L1453.64 566.27 L1453.87 564.82 L1454.11 563.35 L1454.36 561.88 L1454.61 560.39 L1454.85 558.89 L1455.09 557.39 L1455.32 555.87 L1455.54 554.34 L1455.75 552.81 L1455.94 551.28 L1456.13 549.75 L1456.30 548.22 L1456.47 546.69 L1456.63 545.17 L1456.78 543.65 L1456.93 542.13 L1457.07 540.62 L1457.21 539.10 L1457.34 537.59 L1457.47 536.08 L1457.60 534.57 L1457.73 533.06 L1457.85 531.55 L1457.97 530.04 L1458.09 528.54 L1458.21 527.03 L1458.32 525.52 L1458.44 524.02 L1458.55 522.51 L1458.66 521.01 L1458.77 519.51 L1458.88 518.00 L1458.99 516.50 L1459.09 515.00 L1459.20 513.50 L1459.31 511.99 L1459.41 510.49 L1459.51 508.99 L1459.62 507.49 L1459.72 505.99 L1459.82 504.49 L1459.92 502.99 L1460.02 501.49 L1460.13 499.99 L1460.23 498.49 L1460.33 496.99 L1460.43 495.50 L1460.53 494.00 L1460.63 492.50 L1460.73 491.00 L1460.83 489.51 L1460.92 488.01 L1461.02 486.51 L1461.12 485.01 L1461.22 483.52 L1461.32 482.02 L1461.42 480.53 L1461.52 479.03 L1461.62 477.54 L1461.72 476.04 L1461.82 474.55 L1461.92 473.05 L1462.02 471.56 L1462.12 470.06 L1462.22 468.57 L1462.33 467.07 L1462.43 465.57 L1462.53 464.08 L1462.63 462.58 L1462.73 461.08 L1462.83 459.58 L1462.93 458.08 L1463.03 456.58 L1463.13 455.08 L1463.23 453.58 L1463.33 452.08 L1463.43 450.58 L1463.52 449.07 L1463.62 447.57 L1463.72 446.07 L1463.81 444.57 L1463.91 443.06 L1464.00 441.56 L1464.09 440.05 L1464.18 438.55 L1464.27 437.04 L1464.36 435.54 L1464.45 434.03 L1464.54 432.53 L1464.63 431.02 L1464.71 429.51 L1464.80 428.01 L1464.88 426.50 L1464.96 424.99 L1465.04 423.49 L1465.13 421.98 L1465.21 420.47 L1465.28 418.97 L1465.36 417.46 L1465.44 415.95 L1465.52 414.45 L1465.59 412.94 L1465.66 411.43 L1465.74 409.92 L1465.81 408.42 L1465.88 406.91 L1465.95 405.40 L1466.02 403.89 L1466.09 402.39 L1466.16 400.88 L1466.23 399.37 L1466.29 397.86 L1466.36 396.34 L1466.42 394.83 L1466.49 393.32 L1466.55 391.80 L1466.61 390.29 L1466.67 388.78 L1466.72 387.27 L1466.78 385.76 L1466.84 384.25 L1466.89 382.74 L1466.95 381.22 L1467.00 379.71 L1467.06 378.20 L1467.11 376.69 L1467.16 375.19 L1467.21 373.68 L1467.26 372.17 L1467.31 370.64 L1467.36 369.09 L1467.41 367.52 L1467.46 365.94 L1467.51 364.33 L1467.56 362.70 L1467.61 361.05 L1467.66 359.38 L1467.71 357.69 L1467.76 355.97 L1467.81 354.24 L1467.86 352.48 L1467.91 350.71 L1467.96 348.91 L1468.01 347.09 L1468.06 345.25 L1468.11 343.39 L1468.16 341.52 L1468.21 339.63 L1468.26 337.71 L1468.31 335.78 L1468.36 333.82 L1468.41 331.83 L1468.46 329.81 L1468.51 327.76 L1468.56 325.68 L1468.61 323.55 L1468.66 321.39 L1468.71 319.18 L1468.76 316.93 L1468.81 314.63 L1468.86 312.28 L1468.91 309.87 L1468.96 307.42 L1469.01 304.90 L1469.06 302.33 L1469.11 299.69 L1469.16 296.99 L1469.21 294.22 L1469.26 291.38 L1469.31 288.47 L1469.36 285.48 L1469.41 282.42 L1469.46 279.28 L1469.51 276.05 L1469.56 272.74 L1469.61 269.34 L1469.66 265.51 L1469.71 261.14 L1469.76 256.27 L1469.81 250.94 L1469.86 245.20 L1469.91 239.09 L1469.96 232.66 L1470.01 225.95 L1470.06 219.01 L1470.11 211.89 L1470.16 204.61 L1470.21 197.24 L1470.26 189.82 L1470.31 182.39 L1470.36 174.99 L1470.41 167.67 L1470.46 160.48 L1470.51 153.46 L1470.56 146.65 L1470.61 140.11 L1470.66 133.87 L1470.71 127.97 L1470.76 122.47 L1470.81 117.41 L1470.86 112.84 L1470.91 108.79 L1470.96 105.31 L1471.01 102.46 L1471.06 100.26 L1471.11 98.76 L1471.17 97.28 L1471.23 95.81 L1471.29 94.34 L1471.36 92.88 L1471.43 91.43 L1471.51 89.99 L1471.59 88.57 L1471.68 87.18 L1471.78 85.84 L1471.92 84.63 L1472.10 84.00 L1476.20 252.00 L1480.00 123.00 L1480.05 127.60 L1480.10 132.17 L1480.15 136.71 L1480.20 141.20 L1480.25 145.66 L1480.30 150.09 L1480.35 154.47 L1480.40 158.82 L1480.45 163.13 L1480.50 167.41 L1480.55 171.64 L1480.60 175.84 L1480.65 179.99 L1480.70 184.11 L1480.75 188.18 L1480.80 192.22 L1480.85 196.21 L1480.90 200.17 L1480.95 204.08 L1481.00 207.95 L1481.05 211.77 L1481.10 215.56 L1481.15 219.30 L1481.20 223.00 L1481.25 226.65 L1481.30 230.26 L1481.35 233.83 L1481.40 237.35 L1481.45 240.82 L1481.50 244.25 L1481.55 247.63 L1481.60 250.97 L1481.65 254.26 L1481.70 257.51 L1481.75 260.70 L1481.80 263.85 L1481.85 266.95 L1481.90 270.00 L1481.95 273.02 L1482.00 276.01 L1482.05 278.99 L1482.10 281.94 L1482.15 284.87 L1482.20 287.77 L1482.25 290.64 L1482.30 293.48 L1482.35 296.29 L1482.40 299.07 L1482.45 301.82 L1482.50 304.53 L1482.55 307.20 L1482.60 309.83 L1482.65 312.43 L1482.70 314.98 L1482.75 317.50 L1482.80 319.96 L1482.85 322.39 L1482.90 324.76 L1482.95 327.09 L1483.00 329.36 L1483.05 331.59 L1483.10 333.76 L1483.15 335.88 L1483.20 337.94 L1483.25 339.95 L1483.30 341.89 L1483.35 343.78 L1483.40 345.60 L1483.45 347.37 L1483.50 349.09 L1483.55 350.76 L1483.60 352.38 L1483.65 353.97 L1483.70 355.51 L1483.75 357.02 L1483.80 358.50 L1483.85 359.98 L1483.90 361.47 L1483.96 362.95 L1484.01 364.43 L1484.07 365.92 L1484.13 367.40 L1484.19 368.89 L1484.24 370.38 L1484.31 371.87 L1484.37 373.36 L1484.43 374.85 L1484.49 376.35 L1484.55 377.84 L1484.61 379.34 L1484.68 380.84 L1484.74 382.35 L1484.80 383.85 L1484.86 385.36 L1484.92 386.87 L1484.98 388.38 L1485.04 389.89 L1485.10 391.41 L1485.15 392.92 L1485.21 394.44 L1485.26 395.95 L1485.31 397.47 L1485.37 398.99 L1485.42 400.50 L1485.47 402.05 L1485.52 403.63 L1485.57 405.25 L1485.62 406.90 L1485.67 408.57 L1485.72 410.28 L1485.77 412.01 L1485.82 413.77 L1485.87 415.54 L1485.92 417.34 L1485.97 419.16 L1486.02 420.99 L1486.07 422.83 L1486.12 424.69 L1486.17 426.55 L1486.22 428.43 L1486.27 430.31 L1486.32 432.19 L1486.37 434.08 L1486.42 435.96 L1486.47 437.85 L1486.52 439.73 L1486.57 441.60 L1486.62 443.46 L1486.67 445.32 L1486.72 447.16 L1486.77 448.99 L1486.82 450.81 L1486.87 452.60 L1486.92 454.38 L1486.97 456.13 L1487.02 457.86 L1487.07 459.56 L1487.12 461.24 L1487.17 462.89 L1487.22 464.50 L1487.27 466.08 L1487.32 467.62 L1487.37 469.13 L1487.42 470.61 L1487.47 472.08 L1487.52 473.56 L1487.58 475.03 L1487.64 476.50 L1487.69 477.99 L1487.75 479.48 L1487.82 480.97 L1487.88 482.46 L1487.94 483.94 L1488.00 485.43 L1488.07 486.92 L1488.13 488.41 L1488.20 489.90 L1488.27 491.39 L1488.33 492.87 L1488.40 494.36 L1488.47 495.85 L1488.54 497.34 L1488.61 498.83 L1488.69 500.32 L1488.76 501.80 L1488.83 503.29 L1488.91 504.78 L1488.99 506.27 L1489.06 507.76 L1489.14 509.25 L1489.22 510.74 L1489.30 512.23 L1489.38 513.72 L1489.46 515.21 L1489.54 516.71 L1489.63 518.20 L1489.71 519.69 L1489.79 521.18 L1489.88 522.68 L1489.96 524.17 L1490.05 525.67 L1490.13 527.17 L1490.22 528.66 L1490.30 530.16 L1490.39 531.66 L1490.47 533.16 L1490.56 534.66 L1490.64 536.16 L1490.73 537.66 L1490.81 539.16 L1490.89 540.66 L1490.98 542.16 L1491.06 543.67 L1491.14 545.17 L1491.22 546.68 L1491.30 548.18 L1491.38 549.69 L1491.46 551.19 L1491.54 552.69 L1491.62 554.19 L1491.70 555.69 L1491.78 557.19 L1491.85 558.69 L1491.93 560.18 L1492.01 561.68 L1492.09 563.18 L1492.16 564.68 L1492.24 566.18 L1492.32 567.67 L1492.40 569.17 L1492.48 570.67 L1492.55 572.16 L1492.63 573.66 L1492.71 575.16 L1492.79 576.65 L1492.87 578.15 L1492.95 579.64 L1493.03 581.14 L1493.11 582.63 L1493.19 584.13 L1493.27 585.62 L1493.35 587.12 L1493.43 588.61 L1493.51 590.10 L1493.59 591.59 L1493.67 593.09 L1493.76 594.58 L1493.84 596.07 L1493.93 597.56 L1494.01 599.05 L1494.10 600.54 L1494.19 602.03 L1494.27 603.52 L1494.36 605.01 L1494.45 606.49 L1494.55 607.99 L1494.64 609.48 L1494.73 610.97 L1494.82 612.46 L1494.92 613.96 L1495.01 615.45 L1495.11 616.94 L1495.20 618.43 L1495.30 619.92 L1495.40 621.41 L1495.49 622.91 L1495.59 624.40 L1495.69 625.89 L1495.79 627.38 L1495.89 628.87 L1495.99 630.36 L1496.10 631.85 L1496.20 633.34 L1496.30 634.83 L1496.41 636.32 L1496.51 637.81 L1496.62 639.30 L1496.73 640.79 L1496.84 642.28 L1496.95 643.77 L1497.06 645.26 L1497.17 646.75 L1497.28 648.24 L1497.39 649.73 L1497.51 651.21 L1497.62 652.70 L1497.74 654.19 L1497.86 655.68 L1497.98 657.17 L1498.10 658.65 L1498.22 660.14 L1498.34 661.63 L1498.47 663.12 L1498.59 664.61 L1498.72 666.09 L1498.84 667.58 L1498.97 669.07 L1499.10 670.56 L1499.23 672.05 L1499.36 673.54 L1499.50 675.02 L1499.63 676.51 L1499.76 678.00 L1499.90 679.49 L1500.03 680.98 L1500.17 682.47 L1500.31 683.95 L1500.45 685.43 L1500.59 686.91 L1500.74 688.40 L1500.88 689.88 L1501.03 691.37 L1501.18 692.86 L1501.33 694.35 L1501.48 695.84 L1501.63 697.33 L1501.78 698.82 L1501.93 700.32 L1502.08 701.81 L1502.23 703.30 L1502.38 704.79 L1502.54 706.28 L1502.69 707.77 L1502.84 709.26 L1502.99 710.75 L1503.15 712.24 L1503.30 713.73 L1503.45 715.22 L1503.61 716.71 L1503.76 718.20 L1503.92 719.69 L1504.07 721.18 L1504.23 722.68 L1504.38 724.17 L1504.54 725.66 L1504.69 727.15 L1504.85 728.64 L1505.00 730.14 L1505.16 731.63 L1505.31 733.12 L1505.47 734.62 L1505.62 736.12 L1505.77 737.61 L1505.93 739.11 L1506.08 740.60 L1506.23 742.10 L1506.38 743.59 L1506.53 745.09 L1506.68 746.58 L1506.83 748.07 L1506.98 749.56 L1507.13 751.06 L1507.28 752.55 L1507.43 754.04 L1507.58 755.53 L1507.73 757.02 L1507.88 758.51 L1508.03 760.00 L1508.18 761.49 L1508.33 762.97 L1508.49 764.46 L1508.64 765.95 L1508.80 767.43 L1508.96 768.92 L1509.12 770.40 L1509.28 771.88 L1509.44 773.37 L1509.61 774.85 L1509.77 776.33 L1509.94 777.80 L1510.12 779.28 L1510.29 780.76 L1510.47 782.24 L1510.65 783.73 L1510.83 785.21 L1511.01 786.70 L1511.19 788.18 L1511.37 789.66 L1511.56 791.15 L1511.74 792.63 L1511.93 794.12 L1512.12 795.60 L1512.31 797.08 L1512.50 798.57 L1512.69 800.05 L1512.88 801.53 L1513.07 803.02 L1513.27 804.50 L1513.47 805.98 L1513.66 807.46 L1513.86 808.95 L1514.06 810.43 L1514.26 811.91 L1514.46 813.39 L1514.67 814.88 L1514.87 816.36 L1515.07 817.84 L1515.28 819.32 L1515.49 820.81 L1515.69 822.29 L1515.90 823.77 L1516.11 825.25 L1516.32 826.73 L1516.53 828.22 L1516.74 829.70 L1516.96 831.18 L1517.17 832.66 L1517.39 834.14 L1517.60 835.63 L1517.82 837.11 L1518.03 838.59 L1518.25 840.07 L1518.47 841.56 L1518.68 843.04 L1518.90 844.52 L1519.12 846.00 L1519.34 847.49 L1519.56 848.97 L1519.78 850.45 L1520.00 851.93 L1520.22 853.42 L1520.44 854.90 L1520.66 856.38 L1520.88 857.87 L1521.10 859.35 L1521.32 860.83 L1521.55 862.31 L1521.77 863.79 L1521.99 865.27 L1522.22 866.75 L1522.45 868.23 L1522.68 869.70 L1522.91 871.18 L1523.14 872.66 L1523.37 874.14 L1523.60 875.62 L1523.84 877.10 L1524.07 878.57 L1524.31 880.05 L1524.54 881.53 L1524.78 883.01 L1525.02 884.49 L1525.26 885.97 L1525.50 887.45 L1525.74 888.93 L1525.98 890.41 L1526.22 891.89 L1526.46 893.37 L1526.70 894.85 L1526.94 896.33 L1527.18 897.81 L1527.42 899.29 L1527.66 900.78 L1527.90 902.26 L1528.13 903.74 L1528.37 905.23 L1528.61 906.71 L1528.85 908.19 L1529.08 909.67 L1529.32 911.15 L1529.55 912.64 L1529.79 914.12 L1530.03 915.60 L1530.26 917.08 L1530.50 918.56 L1530.73 920.04 L1530.97 921.52 L1531.20 923.00 L1531.44 924.49 L1531.68 925.97 L1531.91 927.45 L1532.15 928.93 L1532.39 930.41 L1532.63 931.88 L1532.86 933.36 L1533.10 934.84 L1533.34 936.32 L1533.58 937.80 L1533.82 939.28 L1534.07 940.76 L1534.31 942.23 L1534.55 943.71 L1534.80 945.19 L1535.04 946.66 L1535.29 948.14 L1535.54 949.62 L1535.78 951.09 L1536.03 952.57 L1536.28 954.05 L1536.53 955.53 L1536.78 957.01 L1537.03 958.49 L1537.28 959.96 L1537.53 961.44 L1537.78 962.92 L1538.03 964.40 L1538.28 965.87 L1538.54 967.35 L1538.79 968.83 L1539.04 970.30 L1539.30 971.78 L1539.55 973.26 L1539.81 974.73 L1540.06 976.21 L1540.32 977.68 L1540.58 979.16 L1540.84 980.63 L1541.10 982.10 L1541.36 983.58 L1541.62 985.05 L1541.89 986.52 L1542.15 987.99 L1542.42 989.46 L1542.69 990.94 L1542.96 992.41 L1543.24 993.87 L1543.51 995.34 L1543.79 996.81 L1544.07 998.28 L1544.35 999.75 L1544.64 1001.21 L1544.92 1002.68 L1545.21 1004.14 L1545.50 1005.61 L1545.80 1007.07 L1546.09 1008.54 L1546.39 1010.00 L1546.69 1011.47 L1546.99 1012.93 L1547.30 1014.40 L1547.60 1015.86 L1547.91 1017.33 L1548.22 1018.79 L1548.53 1020.25 L1548.84 1021.72 L1549.15 1023.18 L1549.47 1024.64 L1549.79 1026.11 L1550.10 1027.57 L1550.42 1029.03 L1550.74 1030.50 L1551.06 1031.96 L1551.38 1033.43 L1551.70 1034.89 L1552.02 1036.35 L1552.35 1037.82 L1552.67 1039.28 L1552.99 1040.75 L1553.31 1042.21 L1553.63 1043.68 L1553.96 1045.15 L1554.28 1046.61 L1554.60 1048.08 L1554.92 1049.55 L1555.24 1051.02 L1555.55 1052.48 L1555.87 1053.95 L1556.19 1055.41 L1556.51 1056.87 L1556.83 1058.34 L1557.16 1059.80 L1557.20 1060.00" stroke="#f58220" stroke-width="6.50"/>
</g>
<path d="M810 1052H814V1067H810ZM176 1052H179V1062H176ZM336 1052H339V1062H336ZM449 1052H452V1062H449ZM537 1052H540V1062H537ZM609 1052H612V1062H609ZM670 1052H673V1062H670ZM722 1052H725V1062H722ZM769 1052H772V1062H769ZM1083 1052H1086V1062H1083ZM1243 1052H1246V1062H1243ZM1356 1052H1359V1062H1356ZM1444 1052H1447V1062H1444ZM1516 1052H1519V1062H1516ZM1576 1052H1580V1062H1576ZM165 1052H180V1056H165ZM165 800H180V804H165ZM165 548H180V551H165ZM165 295H180V299H165ZM165 43H180V47H165ZM170 976H180V980H170ZM170 932H180V935H170ZM170 900H180V904H170ZM170 876H180V879H170ZM170 856H180V859H170ZM170 839H180V842H170ZM170 825H180V828H170ZM170 812H180V815H170ZM170 724H180V727H170ZM170 680H180V683H170ZM170 648H180V651H170ZM170 624H180V627H170ZM170 604H180V607H170ZM170 587H180V590H170ZM170 572H180V575H170ZM170 559H180V563H170ZM170 472H180V475H170ZM170 428H180V431H170ZM170 396H180V399H170ZM170 372H180V375H170ZM170 352H180V355H170ZM170 335H180V338H170ZM170 320H180V323H170ZM170 307H180V310H170ZM170 220H180V223H170ZM170 175H180V178H170ZM170 144H180V147H170ZM170 119H180V122H170ZM170 99H180V102H170ZM170 82H180V86H170ZM170 68H180V71H170ZM170 55H180V58H170Z" fill="#231f20"/>
<path d="M176 43H1580V1056H176ZM180 47V1052H1576V47Z" fill="#231f20" fill-rule="evenodd"/>
<path d="M200.4 64H492.6A3.4 3.4 0 0 1 496 67.4V172.6A3.4 3.4 0 0 1 492.6 176H200.4A3.4 3.4 0 0 1 197 172.6V67.4A3.4 3.4 0 0 1 200.4 64Z" fill="#ffffff" fill-opacity="0.8"/>
<path d="M200.2 60H491.8A7.2 7.2 0 0 1 499 67.2V172.8A7.2 7.2 0 0 1 491.8 180H200.2A7.2 7.2 0 0 1 193 172.8V67.2A7.2 7.2 0 0 1 200.2 60ZM200.4 65H492.6A2.4 2.4 0 0 1 495 67.4V172.6A2.4 2.4 0 0 1 492.6 175H200.4A2.4 2.4 0 0 1 198 172.6V67.4A2.4 2.4 0 0 1 200.4 65Z" fill="#cfcfd3" fill-opacity="0.8" fill-rule="evenodd"/>
<path d="M207 88H284V95H207Z" fill="#1a76b4"/>
<path d="M207 140H284V147H207Z" fill="#f58220"/>
<text x="308.9" y="103.5" font-size="35.28" letter-spacing="0.2">Measured</text>
<text x="308.9" y="155.5" font-size="35.28" letter-spacing="0.2">Model</text>
<text x="88.40" y="58.90" font-size="35.28">10<tspan x="134.75" y="44.40" font-size="24.70">1</tspan></text>
<text x="88.40" y="310.00" font-size="35.28">10<tspan x="134.87" y="296.10" font-size="24.70">0</tspan></text>
<text x="67.60" y="562.90" font-size="35.28">10<tspan x="112.90" y="549.40" font-size="24.70">−1</tspan></text>
<text x="67.60" y="814.00" font-size="35.28">10<tspan x="112.90" y="800.40" font-size="24.70">−2</tspan></text>
<text x="67.60" y="1067.00" font-size="35.28">10<tspan x="112.90" y="1053.15" font-size="24.70">−3</tspan></text>
<text x="779.60" y="1106.60" font-size="35.28">10<tspan x="824.80" y="1093.85" font-size="24.70">0</tspan></text>
<text x="877.94" y="1158.70" font-size="35.28" text-anchor="middle" letter-spacing="0.08">Frequency [Hz]</text>
<text transform="translate(45.30 549.42) rotate(-90)" font-size="35.28" text-anchor="middle" letter-spacing="0.15">Magnitude</text>
</svg></body></html>
